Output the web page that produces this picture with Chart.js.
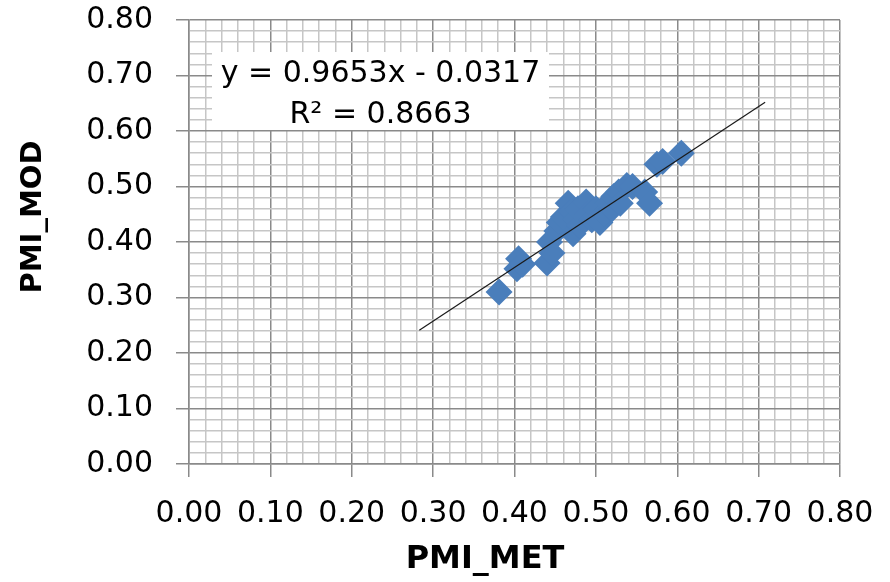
<!DOCTYPE html>
<html>
<head>
<meta charset="utf-8">
<script src="https://cdn.jsdelivr.net/npm/chart.js@4/dist/chart.umd.min.js"></script>
<style>
  html, body { margin: 0; padding: 0; background: #fff; }
  #wrap { width: 890px; height: 582px; }
</style>
</head>
<body>
<div id="wrap"><canvas id="c" width="890" height="582"></canvas></div>
<script>
// ---- data ----
const pmiMet = [0.381, 0.405, 0.403, 0.410, 0.440, 0.446, 0.443, 0.452, 0.455, 0.460,
                0.466, 0.470, 0.475, 0.472, 0.480, 0.478, 0.488, 0.490, 0.495, 0.500,
                0.505, 0.510, 0.515, 0.520, 0.522, 0.528, 0.530, 0.538, 0.545, 0.560,
                0.566, 0.575, 0.582, 0.605];
const pmiMod = [0.310, 0.370, 0.352, 0.360, 0.362, 0.380, 0.400, 0.420, 0.435, 0.445,
                0.470, 0.455, 0.440, 0.415, 0.430, 0.460, 0.472, 0.450, 0.440, 0.460,
                0.435, 0.450, 0.470, 0.460, 0.482, 0.490, 0.470, 0.502, 0.500, 0.490,
                0.470, 0.540, 0.545, 0.560];
const trendX = [0.283, 0.708];
const trendY = [0.241, 0.652];
const equationLines = ["y = 0.9653x - 0.0317", "R\u00B2 = 0.8663"];
const xTitle = "PMI_MET";
const yTitle = "PMI_MOD";
const axisMin = 0, axisMax = 0.8, minorStep = 0.02;

const FONT = "'DejaVu Sans', sans-serif";
const isMajor = v => Math.abs(v * 10 - Math.round(v * 10)) < 1e-6;
const majorGrid = '#8a8a8a', minorGrid = '#c6c6c6';

const equationBox = {
  id: 'equationBox',
  beforeDatasetsDraw(chart) {
    const {ctx, chartArea} = chart;
    const left = chartArea.left + 23, top = chartArea.top + 32, w = 337, h = 78;
    ctx.save();
    ctx.fillStyle = '#fff';
    ctx.fillRect(left, top, w, h);
    ctx.fillStyle = '#000';
    ctx.font = "30px " + FONT;
    ctx.textAlign = 'center';
    ctx.textBaseline = 'alphabetic';
    const cx = left + w / 2;
    ctx.fillText(equationLines[0], cx, top + 30);
    ctx.fillText(equationLines[1], cx, top + 71);
    ctx.restore();
  }
};

// axis titles, placed like the reference (slightly off-centre)
const axisTitles = {
  id: 'axisTitles',
  afterDraw(chart) {
    const {ctx, chartArea} = chart;
    ctx.save();
    ctx.fillStyle = '#000';
    ctx.textAlign = 'center';
    ctx.textBaseline = 'middle';
    ctx.font = "bold 32px " + FONT;
    ctx.fillText(xTitle, chartArea.left + 296, chartArea.bottom + 96);
    ctx.translate(33, chartArea.top + 197);
    ctx.rotate(-Math.PI / 2);
    ctx.font = "bold 29px " + FONT;
    ctx.fillText(yTitle, 0, 0);
    ctx.restore();
  }
};

const tickFont = { family: FONT, size: 30 };

new Chart(document.getElementById('c'), {
  type: 'scatter',
  data: {
    datasets: [
      {
        label: 'PMI',
        data: pmiMet.map((x, i) => ({ x: x, y: pmiMod[i] })),
        pointStyle: 'rectRot',
        pointRadius: 13.5,
        pointHoverRadius: 13.5,
        backgroundColor: '#4A7EBB',
        borderColor: '#4A7EBB',
        borderWidth: 0,
        order: 2
      },
      {
        type: 'line',
        label: 'trend',
        data: trendX.map((x, i) => ({ x: x, y: trendY[i] })),
        borderColor: '#1a1a1a',
        borderWidth: 1.2,
        pointRadius: 0,
        fill: false,
        order: 1
      }
    ]
  },
  options: {
    responsive: false,
    animation: false,
    layout: { padding: { top: 20, right: 50, left: 0, bottom: 0 } },
    plugins: { legend: { display: false }, tooltip: { enabled: false } },
    scales: {
      x: {
        type: 'linear',
        min: axisMin, max: axisMax,
        afterFit(scale) { scale.height = 118; scale.paddingLeft = 0; scale.paddingRight = 0; },
        ticks: {
          stepSize: minorStep,
          autoSkip: false,
          maxRotation: 0,
          padding: 19,
          color: '#000',
          font: tickFont,
          callback: v => isMajor(v) ? v.toFixed(2) : ''
        },
        grid: {
          color: c => isMajor(c.tick.value) ? majorGrid : minorGrid,
          tickColor: c => isMajor(c.tick.value) ? majorGrid : 'rgba(0,0,0,0)',
          lineWidth: 1.5,
          tickLength: 13
        },
        border: { color: majorGrid, width: 1.5 },
        title: { display: false }
      },
      y: {
        type: 'linear',
        min: axisMin, max: axisMax,
        afterFit(scale) { scale.width = 189; scale.paddingTop = 0; scale.paddingBottom = 0; },
        ticks: {
          stepSize: minorStep,
          autoSkip: false,
          padding: 23,
          color: '#000',
          font: tickFont,
          callback: v => isMajor(v) ? v.toFixed(2) : ''
        },
        grid: {
          color: c => isMajor(c.tick.value) ? majorGrid : minorGrid,
          tickColor: c => isMajor(c.tick.value) ? majorGrid : 'rgba(0,0,0,0)',
          lineWidth: 1.5,
          tickLength: 13
        },
        border: { color: majorGrid, width: 1.5 },
        title: { display: false }
      }
    }
  },
  plugins: [equationBox, axisTitles]
});
</script>
</body>
</html>
